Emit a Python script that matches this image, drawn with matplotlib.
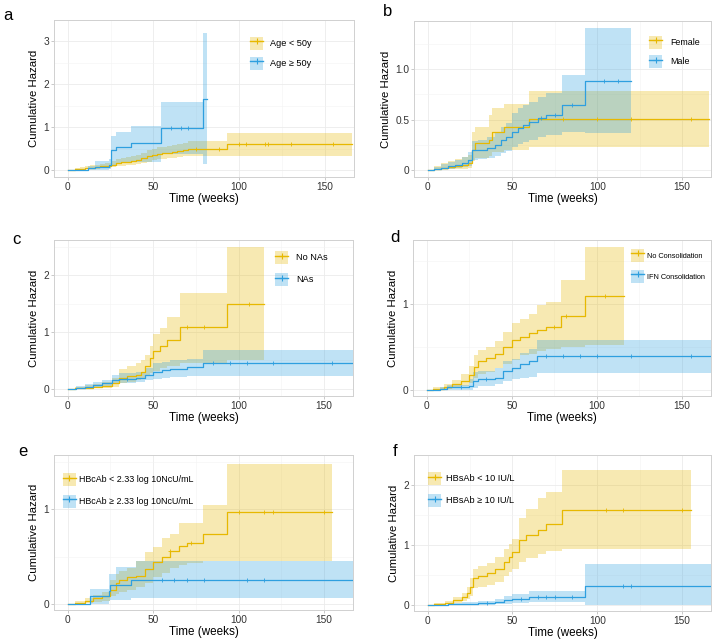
import numpy as np
import matplotlib
matplotlib.use("Agg")
import matplotlib.pyplot as plt
from matplotlib.patches import Patch
from matplotlib.lines import Line2D

plt.rcParams['font.family'] = ['Liberation Sans', 'DejaVu Sans']

YEL = "#E7B800"
BLU = "#2E9FDF"
W, H = 717, 643

# ---- panel a: age ----
a_young_t = [0, 4, 7, 10, 13, 16, 19, 22, 25, 28, 31, 34, 37, 40, 43, 46, 49, 52, 55, 58, 61, 64, 67, 70, 93]
a_young_est = [0, 0.02, 0.03, 0.05, 0.06, 0.08, 0.09, 0.10, 0.13, 0.17, 0.18, 0.19, 0.21, 0.24, 0.28, 0.32, 0.36, 0.38, 0.40, 0.41, 0.43, 0.45, 0.47, 0.50, 0.61]
a_young_lo = [0, 0.0, 0.01, 0.02, 0.02, 0.03, 0.04, 0.05, 0.07, 0.09, 0.10, 0.11, 0.12, 0.14, 0.17, 0.20, 0.23, 0.25, 0.27, 0.28, 0.29, 0.31, 0.32, 0.34, 0.34]
a_young_hi = [0, 0.05, 0.07, 0.09, 0.11, 0.13, 0.15, 0.17, 0.21, 0.26, 0.28, 0.30, 0.32, 0.36, 0.41, 0.46, 0.50, 0.53, 0.55, 0.57, 0.59, 0.62, 0.64, 0.67, 0.87]
a_young_end = 166
a_young_cens = [75, 88, 100, 104, 115, 117, 130, 155]

a_old_t = [0, 12, 16, 24, 25.5, 28, 37, 54.5, 79]
a_old_est = [0, 0.05, 0.08, 0.12, 0.47, 0.55, 0.63, 0.98, 1.67]
a_old_lo = [0, 0.0, 0.01, 0.03, 0.12, 0.16, 0.20, 0.38, 0.15]
a_old_hi = [0, 0.10, 0.22, 0.25, 0.80, 0.90, 1.04, 1.60, 3.19]
a_old_end = 81
a_old_cens = [60, 66, 70]

# ---- panel b: sex ----
b_fem_t = [0, 4, 8, 12, 16, 20, 24, 26, 28, 36, 38, 45, 60]
b_fem_est = [0, 0.01, 0.02, 0.03, 0.04, 0.05, 0.07, 0.20, 0.27, 0.30, 0.38, 0.43, 0.51]
b_fem_lo = [0, 0, 0, 0.01, 0.01, 0.01, 0.02, 0.09, 0.12, 0.14, 0.18, 0.20, 0.23]
b_fem_hi = [0, 0.04, 0.07, 0.09, 0.11, 0.13, 0.15, 0.38, 0.43, 0.55, 0.62, 0.66, 0.78]
b_fem_end = 166
b_fem_cens = [80, 100, 120, 155]

b_male_t = [0, 4, 8, 12, 16, 20, 24, 26, 30, 35, 40, 43, 46, 50, 53, 56, 60, 65, 70, 79, 93]
b_male_est = [0, 0.01, 0.02, 0.04, 0.05, 0.07, 0.10, 0.20, 0.20, 0.22, 0.25, 0.30, 0.33, 0.38, 0.42, 0.45, 0.48, 0.52, 0.55, 0.65, 0.88]
b_male_lo = [0, 0, 0.01, 0.01, 0.02, 0.03, 0.04, 0.10, 0.11, 0.12, 0.14, 0.17, 0.19, 0.23, 0.26, 0.28, 0.30, 0.33, 0.35, 0.38, 0.37]
b_male_hi = [0, 0.03, 0.06, 0.08, 0.10, 0.13, 0.18, 0.29, 0.30, 0.33, 0.38, 0.43, 0.47, 0.57, 0.62, 0.65, 0.68, 0.72, 0.76, 0.94, 1.41]
b_male_end = 120
b_male_cens = [67, 75, 85, 104, 112]

# ---- panel c: NAs ----
c_no_t = [0, 4, 10, 15, 20, 26, 30, 35, 40, 43, 45, 48, 50, 54, 58, 66, 93]
c_no_est = [0, 0.01, 0.02, 0.03, 0.05, 0.10, 0.20, 0.22, 0.25, 0.30, 0.40, 0.55, 0.67, 0.76, 0.86, 1.09, 1.50]
c_no_lo = [0, 0, 0, 0.01, 0.02, 0.04, 0.10, 0.12, 0.15, 0.18, 0.22, 0.28, 0.32, 0.36, 0.40, 0.45, 0.50]
c_no_hi = [0, 0.03, 0.06, 0.08, 0.12, 0.20, 0.35, 0.40, 0.45, 0.50, 0.60, 0.75, 0.97, 1.08, 1.27, 1.69, 2.50]
c_no_end = 115
c_no_cens = [70, 80, 106]

c_na_t = [0, 5, 10, 15, 20, 26, 30, 40, 45, 50, 55, 60, 70, 79]
c_na_est = [0, 0.02, 0.04, 0.07, 0.10, 0.16, 0.18, 0.20, 0.25, 0.29, 0.33, 0.35, 0.38, 0.46]
c_na_lo = [0, 0, 0.01, 0.02, 0.04, 0.08, 0.10, 0.12, 0.15, 0.18, 0.20, 0.21, 0.22, 0.23]
c_na_hi = [0, 0.05, 0.09, 0.12, 0.16, 0.25, 0.28, 0.30, 0.37, 0.45, 0.48, 0.50, 0.52, 0.69]
c_na_end = 167
c_na_cens = [35, 85, 95, 105, 120, 155]

# ---- panel d: consolidation ----
d_no_t = [0, 4, 10, 15, 20, 25, 28, 30, 35, 40, 45, 50, 55, 60, 65, 70, 79, 93]
d_no_est = [0, 0.01, 0.03, 0.06, 0.10, 0.17, 0.27, 0.33, 0.37, 0.42, 0.50, 0.58, 0.62, 0.66, 0.70, 0.73, 0.86, 1.09]
d_no_lo = [0, 0, 0.01, 0.02, 0.04, 0.08, 0.13, 0.18, 0.21, 0.25, 0.30, 0.35, 0.40, 0.42, 0.45, 0.47, 0.50, 0.52]
d_no_hi = [0, 0.03, 0.06, 0.11, 0.18, 0.28, 0.40, 0.46, 0.50, 0.57, 0.67, 0.78, 0.83, 0.89, 0.99, 1.02, 1.28, 1.67]
d_no_end = 116
d_no_cens = [75, 82, 105]

d_ifn_t = [0, 8, 12, 25, 27, 30, 40, 45, 50, 55, 60, 65]
d_ifn_est = [0, 0.01, 0.03, 0.04, 0.10, 0.12, 0.14, 0.22, 0.25, 0.30, 0.34, 0.39]
d_ifn_lo = [0, 0, 0, 0, 0.02, 0.04, 0.06, 0.10, 0.12, 0.14, 0.15, 0.19]
d_ifn_hi = [0, 0.03, 0.05, 0.12, 0.20, 0.22, 0.25, 0.33, 0.36, 0.43, 0.47, 0.58]
d_ifn_end = 167
d_ifn_cens = [20, 35, 70, 80, 90, 100, 120, 155]

# ---- panel e: HBcAb ----
e_low_t = [0, 4, 10, 15, 20, 25, 28, 30, 35, 40, 45, 50, 55, 60, 65, 70, 79, 93]
e_low_est = [0, 0.01, 0.03, 0.06, 0.08, 0.15, 0.22, 0.25, 0.28, 0.30, 0.37, 0.44, 0.50, 0.56, 0.61, 0.64, 0.74, 0.97]
e_low_lo = [0, 0, 0.01, 0.02, 0.03, 0.08, 0.11, 0.13, 0.15, 0.18, 0.22, 0.28, 0.33, 0.38, 0.41, 0.43, 0.45, 0.45]
e_low_hi = [0, 0.03, 0.06, 0.10, 0.13, 0.25, 0.32, 0.35, 0.38, 0.45, 0.55, 0.60, 0.70, 0.74, 0.85, 0.85, 1.04, 1.48]
e_low_end = 155
e_low_cens = [60, 72, 100, 115, 120, 150]

e_high_t = [0, 13, 24, 25, 28, 37, 40]
e_high_est = [0, 0.08, 0.14, 0.20, 0.20, 0.25, 0.25]
e_high_lo = [0, 0.0, 0.03, 0.04, 0.04, 0.06, 0.06]
e_high_hi = [0, 0.16, 0.32, 0.32, 0.39, 0.39, 0.45]
e_high_end = 167
e_high_cens = [55, 62, 70, 80, 105, 115]

# ---- panel f: HBsAb ----
f_low_t = [0, 4, 10, 15, 20, 23, 25, 27, 30, 35, 40, 45, 48, 50, 54, 58, 65, 70, 79]
f_low_est = [0, 0.01, 0.04, 0.08, 0.13, 0.20, 0.30, 0.45, 0.48, 0.53, 0.60, 0.72, 0.80, 0.88, 1.08, 1.16, 1.25, 1.35, 1.58]
f_low_lo = [0, 0, 0.01, 0.03, 0.06, 0.10, 0.15, 0.28, 0.30, 0.34, 0.38, 0.48, 0.55, 0.60, 0.72, 0.78, 0.85, 0.90, 0.93]
f_low_hi = [0, 0.03, 0.07, 0.13, 0.20, 0.30, 0.45, 0.60, 0.65, 0.70, 0.80, 0.93, 1.02, 1.10, 1.45, 1.60, 1.78, 1.88, 2.25]
f_low_end = 155
f_low_cens = [105, 115, 150]

f_high_t = [0, 12, 20, 30, 40, 45, 50, 60, 93]
f_high_est = [0, 0.01, 0.02, 0.03, 0.05, 0.08, 0.10, 0.13, 0.32]
f_high_lo = [0, 0, 0, 0, 0.01, 0.02, 0.03, 0.05, 0.0]
f_high_hi = [0, 0.03, 0.05, 0.07, 0.10, 0.15, 0.18, 0.23, 0.69]
f_high_end = 167
f_high_cens = [35, 55, 65, 70, 75, 85, 115, 120]

panel_letters = ["a", "b", "c", "d", "e", "f"]
legend_labels = [
    ["Age < 50y", "Age \u2265 50y"],
    ["Female", "Male"],
    ["No NAs", "NAs"],
    ["No Consolidation", "IFN Consolidation"],
    ["HBcAb < 2.33 log 10NcU/mL", "HBcAb \u2265 2.33 log 10NcU/mL"],
    ["HBsAb < 10 IU/L", "HBsAb \u2265 10 IU/L"],
]
y_ticks = [[0, 1, 2, 3], [0, 0.5, 1.0], [0, 1, 2], [0, 1], [0, 1], [0, 1, 2]]
y_ticklabels = [["0", "1", "2", "3"], ["0", "0.5", "1.0"], ["0", "1", "2"], ["0", "1"], ["0", "1"], ["0", "1", "2"]]

curves = [
    [(a_young_t, a_young_est, a_young_lo, a_young_hi, a_young_end, a_young_cens),
     (a_old_t, a_old_est, a_old_lo, a_old_hi, a_old_end, a_old_cens)],
    [(b_fem_t, b_fem_est, b_fem_lo, b_fem_hi, b_fem_end, b_fem_cens),
     (b_male_t, b_male_est, b_male_lo, b_male_hi, b_male_end, b_male_cens)],
    [(c_no_t, c_no_est, c_no_lo, c_no_hi, c_no_end, c_no_cens),
     (c_na_t, c_na_est, c_na_lo, c_na_hi, c_na_end, c_na_cens)],
    [(d_no_t, d_no_est, d_no_lo, d_no_hi, d_no_end, d_no_cens),
     (d_ifn_t, d_ifn_est, d_ifn_lo, d_ifn_hi, d_ifn_end, d_ifn_cens)],
    [(e_low_t, e_low_est, e_low_lo, e_low_hi, e_low_end, e_low_cens),
     (e_high_t, e_high_est, e_high_lo, e_high_hi, e_high_end, e_high_cens)],
    [(f_low_t, f_low_est, f_low_lo, f_low_hi, f_low_end, f_low_cens),
     (f_high_t, f_high_est, f_high_lo, f_high_hi, f_high_end, f_high_cens)],
]

# layout in pixels: (left, right, top, bottom), ylim, letter pos, legend (key x, key top y, fontsize, text gap, row step)
boxes = [(54, 354, 20, 177), (414, 711, 21, 177), (54, 353, 240, 396),
         (413, 711, 240, 396), (54, 353, 455, 610), (414, 711, 455, 611)]
ylims = [(-0.16, 3.36), (-0.07, 1.48), (-0.125, 2.62), (-0.075, 1.75), (-0.063, 1.57), (-0.1, 2.36)]
letter_pos = [(3, 15), (383, 11), (12, 239), (390, 237), (18, 452), (393, 451)]
legend_pos = [(250, 36.5, 6.6, 7, 20), (649, 35.5, 6.4, 8, 19.5), (275, 251, 6.6, 8, 22),
              (631, 249, 5.3, 3, 21), (63, 473, 6.4, 3, 21.7), (428, 472, 6.6, 5, 22)]


def draw_band(ax, t, lo, hi, end, color):
    x = np.append(t, end)
    ax.fill_between(x, np.append(lo, lo[-1]), np.append(hi, hi[-1]), step="post",
                    color=color, alpha=0.3, lw=0)


def draw_line(ax, t, est, end, cens, color):
    x = np.append(t, end)
    y = np.append(est, est[-1])
    ax.step(x, y, where="post", color=color, lw=0.9)
    idx = np.searchsorted(t, cens, side="right") - 1
    ax.plot(cens, np.asarray(est)[idx], ls="none", marker="+", ms=3, mew=0.6, color=color)


def add_legend(ax, labels, kx, ky, fs, gap, row):
    px = fs * 100 / 72
    # matplotlib shrinks the handle box by a descent term; solve for a 13 px tall key
    hh = (13 / px - 0.245) / 0.65
    handles = [(Patch(facecolor=c, alpha=0.3, lw=0),
                Line2D([], [], color=c, lw=1, marker="+", ms=4, mew=0.8)) for c in (YEL, BLU)]
    ax.legend(handles, labels, loc="upper left", bbox_to_anchor=(kx / W, 1 - ky / H),
              bbox_transform=fig.transFigure, frameon=False, fontsize=fs,
              handlelength=13 / px, handleheight=hh, handletextpad=gap / px,
              labelspacing=(row - 13) / px, borderpad=0, borderaxespad=0)


fig = plt.figure(figsize=(W / 100, H / 100), dpi=100)

for i in range(6):
    l, r, t, b = boxes[i]
    ax = fig.add_axes([l / W, 1 - b / H, (r - l) / W, (b - t) / H])
    (cy, cb) = curves[i]
    draw_band(ax, cy[0], cy[2], cy[3], cy[4], YEL)
    draw_band(ax, cb[0], cb[2], cb[3], cb[4], BLU)
    draw_line(ax, cy[0], cy[1], cy[4], cy[5], YEL)
    draw_line(ax, cb[0], cb[1], cb[4], cb[5], BLU)

    ax.set_xlim(-8, 167)
    ax.set_ylim(*ylims[i])
    ax.set_xticks([0, 50, 100, 150])
    ax.set_xticks([25, 75, 125], minor=True)
    yt = y_ticks[i]
    ax.set_yticks(yt)
    ax.set_yticklabels(y_ticklabels[i])
    step = yt[1] - yt[0]
    ax.set_yticks([v + step / 2 for v in yt], minor=True)
    ax.grid(which="major", color="#ebebeb", lw=0.6)
    ax.grid(which="minor", color="#f3f3f3", lw=0.4)
    ax.set_axisbelow(True)
    for s in ax.spines.values():
        s.set_color("#d0d0d0")
        s.set_linewidth(0.7)
    ax.tick_params(which="major", length=2, width=0.5, color="#b3b3b3", pad=1.5,
                   labelsize=7.3, labelcolor="#333333")
    ax.tick_params(which="minor", length=0)
    ax.set_xlabel("Time (weeks)", fontsize=8.4, labelpad=1)
    ax.set_ylabel("Cumulative Hazard", fontsize=8.2, labelpad=3)

    kx, ky, fs, gap, row = legend_pos[i]
    add_legend(ax, legend_labels[i], kx, ky, fs, gap, row)

    lx, ly = letter_pos[i]
    fig.text(lx / W, 1 - ly / H, panel_letters[i], fontsize=12, ha="left", va="center")

fig.savefig("out.png", dpi=100)
